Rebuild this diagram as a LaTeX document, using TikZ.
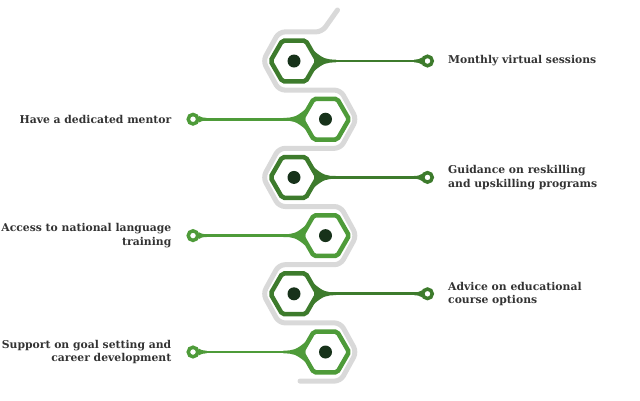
\documentclass[tikz,border=0pt]{standalone}
\usepackage{fontspec}
\setmainfont{DejaVu Serif}
\usetikzlibrary{shapes.geometric, positioning, calc}
\definecolor{darkg}{HTML}{3D7B2C}
\definecolor{lightg}{HTML}{4E9B39}
\definecolor{dotc}{HTML}{17321A}
\definecolor{trackc}{HTML}{D9D9D9}
\definecolor{textc}{HTML}{333333}
\tikzset{
	hexnode/.style={draw=#1, regular polygon, regular polygon sides=6, minimum size=47pt, inner sep=0pt, line width=4.5pt, rounded corners=2pt, fill=white},
	hole/.style={circle, fill=dotc, minimum size=13pt, inner sep=0pt},
	ring/.style={draw=#1, circle, line width=3.5pt, minimum size=9.5pt, inner sep=0pt, fill=white},
	link/.style={draw=#1, line width=2.8pt},
	% labels beside the rings
	itemR/.style={text=textc, font=\bfseries\fontsize{10.8}{13.5}\selectfont, align=left, anchor=west, inner sep=0pt},
	itemL/.style={text=textc, font=\bfseries\fontsize{10.8}{13.5}\selectfont, align=right, anchor=east, inner sep=0pt},
}
% #1 point, #2 direction, #3 colour, #4 length, #5 half width, #6 shift inward
\newcommand{\flare}[6]{
	\fill[#3] ($(#1)+(-#6*#2,-#5)$) .. controls ($(#1)+(0.2*#4*#2,-2.2)$) and ($(#1)+(0.4*#4*#2,-1.4)$) .. ($(#1)+(#4*#2,-1.4)$) -- ($(#1)+(#4*#2,1.4)$) .. controls ($(#1)+(0.4*#4*#2,1.4)$) and ($(#1)+(0.2*#4*#2,2.2)$) .. ($(#1)+(-#6*#2,#5)$) -- cycle;
}

\begin{document}
\begin{tikzpicture}[x=1pt, y=-1pt]
	\useasboundingbox (0,0) rectangle (640,400);
	
	% grey track
	\draw[trackc, line width=5pt, line cap=round, rounded corners=6pt]
		(337.5,10) -- (322,31.9) -- (279,31.9) -- (263,61) -- (279,90.1)
		-- (340.5,90.1) -- (356.5,119.2) -- (340.5,148.3)
		-- (279,148.3) -- (263,177.4) -- (279,206.5)
		-- (340.5,206.5) -- (356.5,235.6) -- (340.5,264.7)
		-- (279,264.7) -- (263,293.8) -- (279,322.9)
		-- (340.5,322.9) -- (356.5,352) -- (340.5,381.1) -- (300,381.1);
	
	\node (h1) [hexnode=darkg] at (294,61) {};
	\node (h2) [hexnode=lightg] at (325.5,119.2) {};
	\node (h3) [hexnode=darkg] at (294,177.4) {};
	\node (h4) [hexnode=lightg] at (325.5,235.6) {};
	\node (h5) [hexnode=darkg] at (294,293.8) {};
	\node (h6) [hexnode=lightg] at (325.5,352) {};
	
	\node (d1) [hole] at (h1) {};
	\node (d2) [hole] at (h2) {};
	\node (d3) [hole] at (h3) {};
	\node (d4) [hole] at (h4) {};
	\node (d5) [hole] at (h5) {};
	\node (d6) [hole] at (h6) {};
	
	\node (r1) [ring=darkg] at (427.5,61) {};
	\node (r2) [ring=lightg] at (193,119.2) {};
	\node (r3) [ring=darkg] at (427.5,177.4) {};
	\node (r4) [ring=lightg] at (193,235.6) {};
	\node (r5) [ring=darkg] at (427.5,293.8) {};
	\node (r6) [ring=lightg] at (193,352) {};
	
	\draw[link=darkg] (h1) -- (r1);
	\draw[link=lightg] (h2) -- (r2);
	\draw[link=darkg] (h3) -- (r3);
	\draw[link=lightg] (h4) -- (r4);
	\draw[link=darkg] (h5) -- (r5);
	\draw[link=lightg] (h6) -- (r6);
	
	\flare{h1.0}{1}{darkg}{16}{10}{6}
	\flare{h3.0}{1}{darkg}{16}{10}{6}
	\flare{h5.0}{1}{darkg}{16}{10}{6}
	\flare{h2.180}{-1}{lightg}{16}{10}{6}
	\flare{h4.180}{-1}{lightg}{16}{10}{6}
	\flare{h6.180}{-1}{lightg}{16}{10}{6}
	\flare{r1.180}{-1}{darkg}{7}{3.5}{1}
	\flare{r3.180}{-1}{darkg}{7}{3.5}{1}
	\flare{r5.180}{-1}{darkg}{7}{3.5}{1}
	\flare{r2.0}{1}{lightg}{7}{3.5}{1}
	\flare{r4.0}{1}{lightg}{7}{3.5}{1}
	\flare{r6.0}{1}{lightg}{7}{3.5}{1}
	
	\node (t1) [itemR, right=14pt of r1] {Monthly virtual sessions};
	\node (t2) [itemL, left=15pt of r2] {Have a dedicated mentor};
	\node (t3) [itemR, right=14pt of r3] {Guidance on reskilling\\and upskilling programs};
	\node (t4) [itemL, left=15pt of r4] {Access to national language\\training};
	\node (t5) [itemR, right=14pt of r5] {Advice on educational\\course options};
	\node (t6) [itemL, left=15pt of r6] {Support on goal setting and\\career development};
	
\end{tikzpicture}
\end{document}
